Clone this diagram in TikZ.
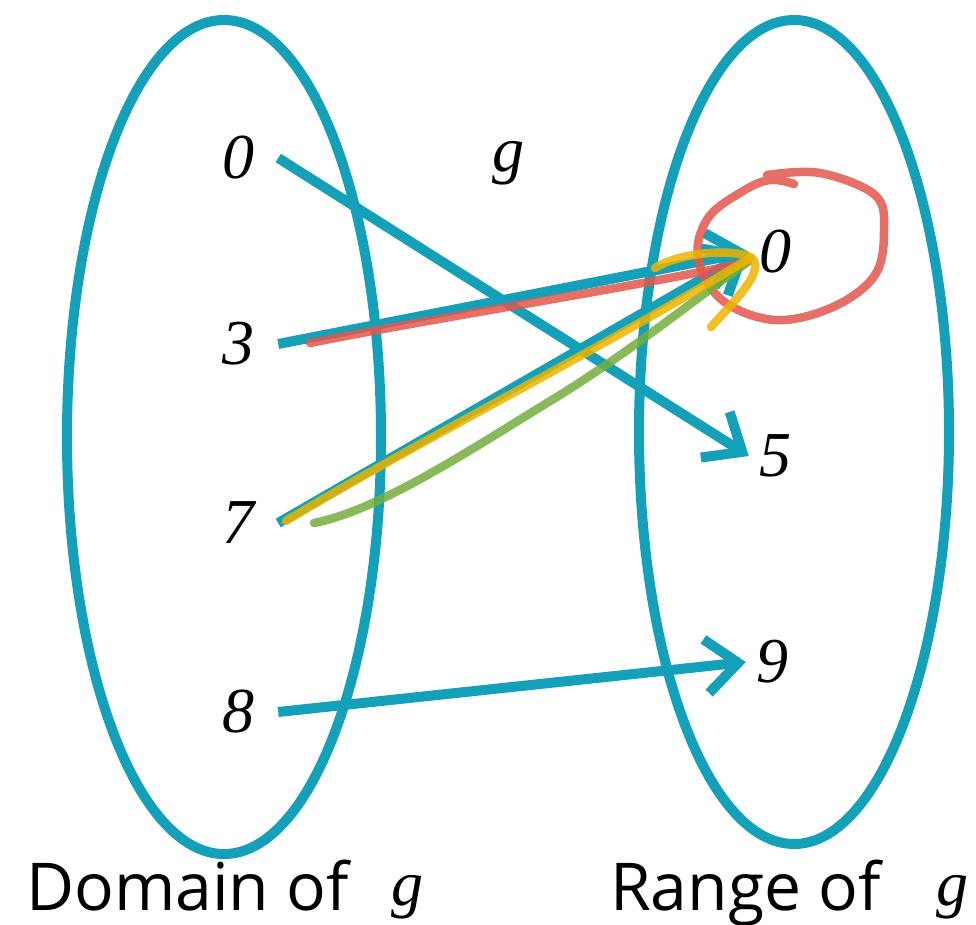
\documentclass[tikz,border=0pt]{standalone}
\usepackage{fontspec}
\setmainfont{Liberation Serif}
\newfontfamily\labelfont{Open Sans}
\usetikzlibrary{arrows.meta}
\definecolor{teal1}{HTML}{14A0B8}
\definecolor{pred}{HTML}{E2574C}
\definecolor{pyel}{HTML}{EBB500}
\definecolor{pgrn}{HTML}{74AD3E}
\tikzset{
  setell/.style={draw=teal1, line width=10pt},
  numfont/.style={font=\fontsize{64}{64}\selectfont\itshape},
  numL/.style={numfont, inner xsep=24pt, inner ysep=2pt},
  numR/.style={numfont, inner xsep=10pt, inner ysep=2pt},
  maparrow/.style={draw=teal1, line width=10pt, -{Straight Barb[length=32pt,width=54pt,line width=10pt]}},
  pen/.style={line width=8.5pt, line cap=round, line join=round, opacity=0.85},
  lab/.style={font=\fontsize{66}{66}\selectfont\labelfont, anchor=base west, inner sep=0pt},
  labg/.style={numfont, anchor=base, inner sep=0pt},
}
\begin{document}
\begin{tikzpicture}[x=1pt,y=-1pt]
\useasboundingbox (0,0) rectangle (976,925);
% sets
\draw[setell] (224,437) ellipse [x radius=157, y radius=417];
\draw[setell] (794,432) ellipse [x radius=155, y radius=412];
% elements
\node[numL] (l0) at (238,158) {0};
\node[numL] (l3) at (238,344) {3};
\node[numL] (l7) at (238,523) {7};
\node[numL] (l8) at (238,712) {8};
\node[numR] (r0) at (775,252) {0};
\node[numR] (r5) at (775,456) {5};
\node[numR] (r9) at (772,662) {9};
\node[numfont] (gname) at (508,163) {g};
% mappings
\draw[maparrow] (l0.east) -- (r5.west);
\draw[maparrow] (l3.east) -- (r0.west);
\draw[maparrow] (l7.east) -- (r0.west);
\draw[maparrow] (l8.east) -- (r9.west);
% hand-drawn annotations
\draw[pen, pred] (310,343) .. controls (450,315) and (620,290) .. (748,262);
\draw[pen, pred] plot[smooth, tension=0.6] coordinates {(767,175) (820,173) (875,195) (884,230) (875,275) (833,307) (775,320) (722,300) (698,258) (708,218) (743,191) (770,180) (794,184)};
\draw[pen, pgrn] (314,523) .. controls (380,510) and (470,450) .. (560,395) .. controls (640,345) and (700,295) .. (745,264);
\draw[pen, pyel] (286,521) .. controls (420,440) and (600,350) .. (750,258);
\draw[pen, pyel] (655,268) .. controls (680,252) and (735,248) .. (752,258) .. controls (765,272) and (735,300) .. (711,327);
% labels
\node[lab] (dlab) at (26,910) {Domain of};
\node[labg] (dg) at (407,905) {g};
\node[lab] (rlab) at (610,910) {Range of};
\node[labg] (rg) at (952,905) {g};
\end{tikzpicture}
\end{document}
